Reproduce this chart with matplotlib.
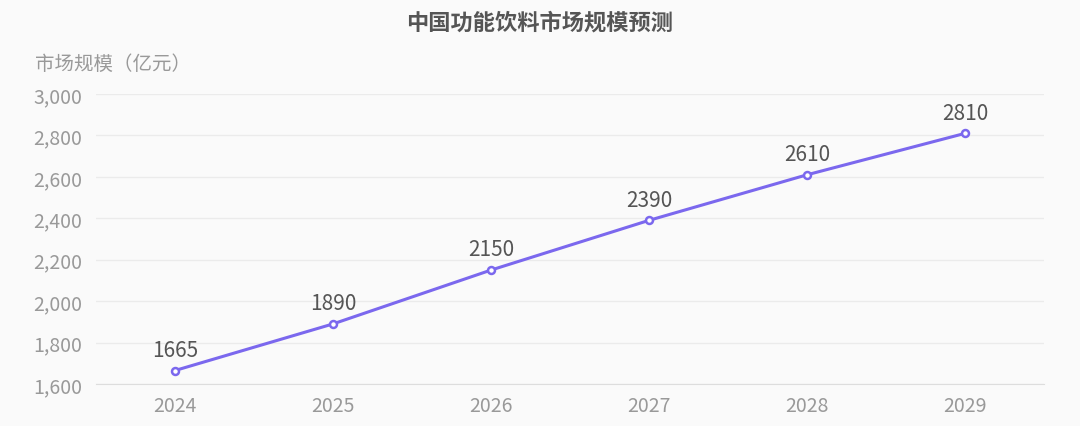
import matplotlib.pyplot as plt
from matplotlib.ticker import FuncFormatter

plt.rcParams['font.family'] = ['Noto Sans CJK SC', 'DejaVu Sans']

years = ['2024', '2025', '2026', '2027', '2028', '2029']
market_size = [1665, 1890, 2150, 2390, 2610, 2810]

bg = '#fafafa'
fig = plt.figure(figsize=(10.8, 4.27), dpi=100, facecolor=bg)
ax = fig.add_axes([0.0889, 0.0984, 0.8778, 0.6791], facecolor=bg)

x = list(range(len(years)))
ax.plot(x, market_size, color='#7b68ee', linewidth=2.2, marker='o', markersize=5,
        markerfacecolor='white', markeredgecolor='#7b68ee', markeredgewidth=1.8, zorder=3)
for xi, v in zip(x, market_size):
    ax.annotate(str(v), (xi, v), xytext=(0, 7), textcoords='offset points',
                ha='center', va='bottom', fontsize=15, color='#555555')

ax.set_xlim(-0.5, len(years) - 0.5)
ax.set_ylim(1600, 3000)
ax.set_yticks(range(1600, 3001, 200))
ax.yaxis.set_major_formatter(FuncFormatter(lambda v, p: f'{int(v):,}'))
ax.set_xticks(x)
ax.set_xticklabels(years)

ax.grid(axis='y', color='#ebebeb', linewidth=1)
ax.set_axisbelow(True)
for s in ['top', 'right', 'left']:
    ax.spines[s].set_visible(False)
ax.spines['bottom'].set_color('#dddddd')
ax.tick_params(axis='both', length=0, labelsize=14, colors='#999999')
ax.tick_params(axis='x', pad=8)
ax.tick_params(axis='y', pad=10)

fig.text(0.5, 0.946, '中国功能饮料市场规模预测', ha='center', va='center',
         fontsize=16, fontweight='bold', color='#555555')
fig.text(0.032, 0.85, '市场规模（亿元）', ha='left', va='center',
         fontsize=14, color='#999999')

plt.savefig('out.png', dpi=100, facecolor=bg)
